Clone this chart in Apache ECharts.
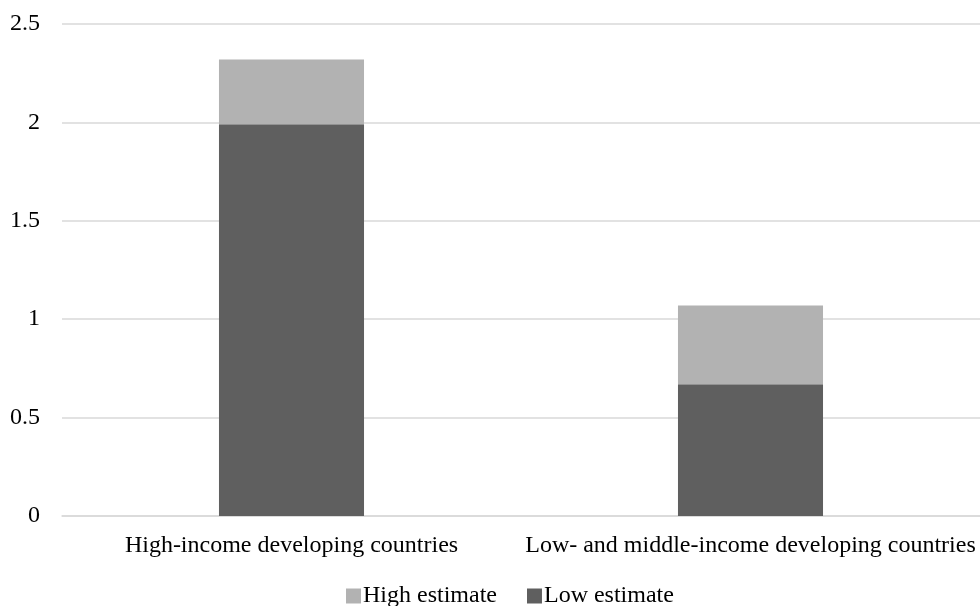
<!DOCTYPE html>
<html>
<head>
<meta charset="utf-8">
<script src="https://cdn.jsdelivr.net/npm/echarts@6/dist/echarts.min.js"></script>
<style>html,body{margin:0;padding:0;background:#fff;}#c{width:980px;height:606px;}</style>
</head>
<body>
<div id="c"></div>
<script>
const categories = ["High-income developing countries", "Low- and middle-income developing countries"];
const lowEstimate = [1.99, 0.67];
const highEstimateExtra = [0.33, 0.40];
const yTicks = [0, 0.5, 1, 1.5, 2, 2.5];

const chart = echarts.init(document.getElementById('c'), null, {renderer: 'canvas'});
const font = '"Liberation Serif", "Times New Roman", serif';
chart.setOption({
  animation: false,
  textStyle: {fontFamily: font},
  grid: {left: 62, right: 0, top: 24, bottom: 90, containLabel: false},
  legend: {
    bottom: -7,
    left: 341,
    itemWidth: 15, itemHeight: 15, itemGap: 30,
    icon: 'rect',
    textStyle: {fontFamily: font, fontSize: 24, color: '#000', padding: [0,0,0,-3]},
    data: ['High estimate', 'Low estimate']
  },
  xAxis: {
    type: 'category',
    data: categories,
    axisLine: {lineStyle: {color: '#d9d9d9', width: 1.5}},
    axisTick: {show: false},
    axisLabel: {fontFamily: font, fontSize: 24, color: '#000', margin: 18, interval: 0}
  },
  yAxis: {
    type: 'value',
    min: 0, max: 2.5, interval: 0.5,
    axisLine: {show: false},
    axisTick: {show: false},
    splitLine: {lineStyle: {color: '#d9d9d9', width: 1.5}},
    axisLabel: {fontFamily: font, fontSize: 24, color: '#000', margin: 22,
      formatter: v => yTicks.includes(v) ? String(v) : ''}
  },
  series: [
    {name: 'Low estimate', type: 'bar', stack: 's', data: lowEstimate, barWidth: '31.6%',
     itemStyle: {color: '#5f5f5f'}},
    {name: 'High estimate', type: 'bar', stack: 's', data: highEstimateExtra, barWidth: '31.6%',
     itemStyle: {color: '#b2b2b2'}}
  ]
});
</script>
</body>
</html>
